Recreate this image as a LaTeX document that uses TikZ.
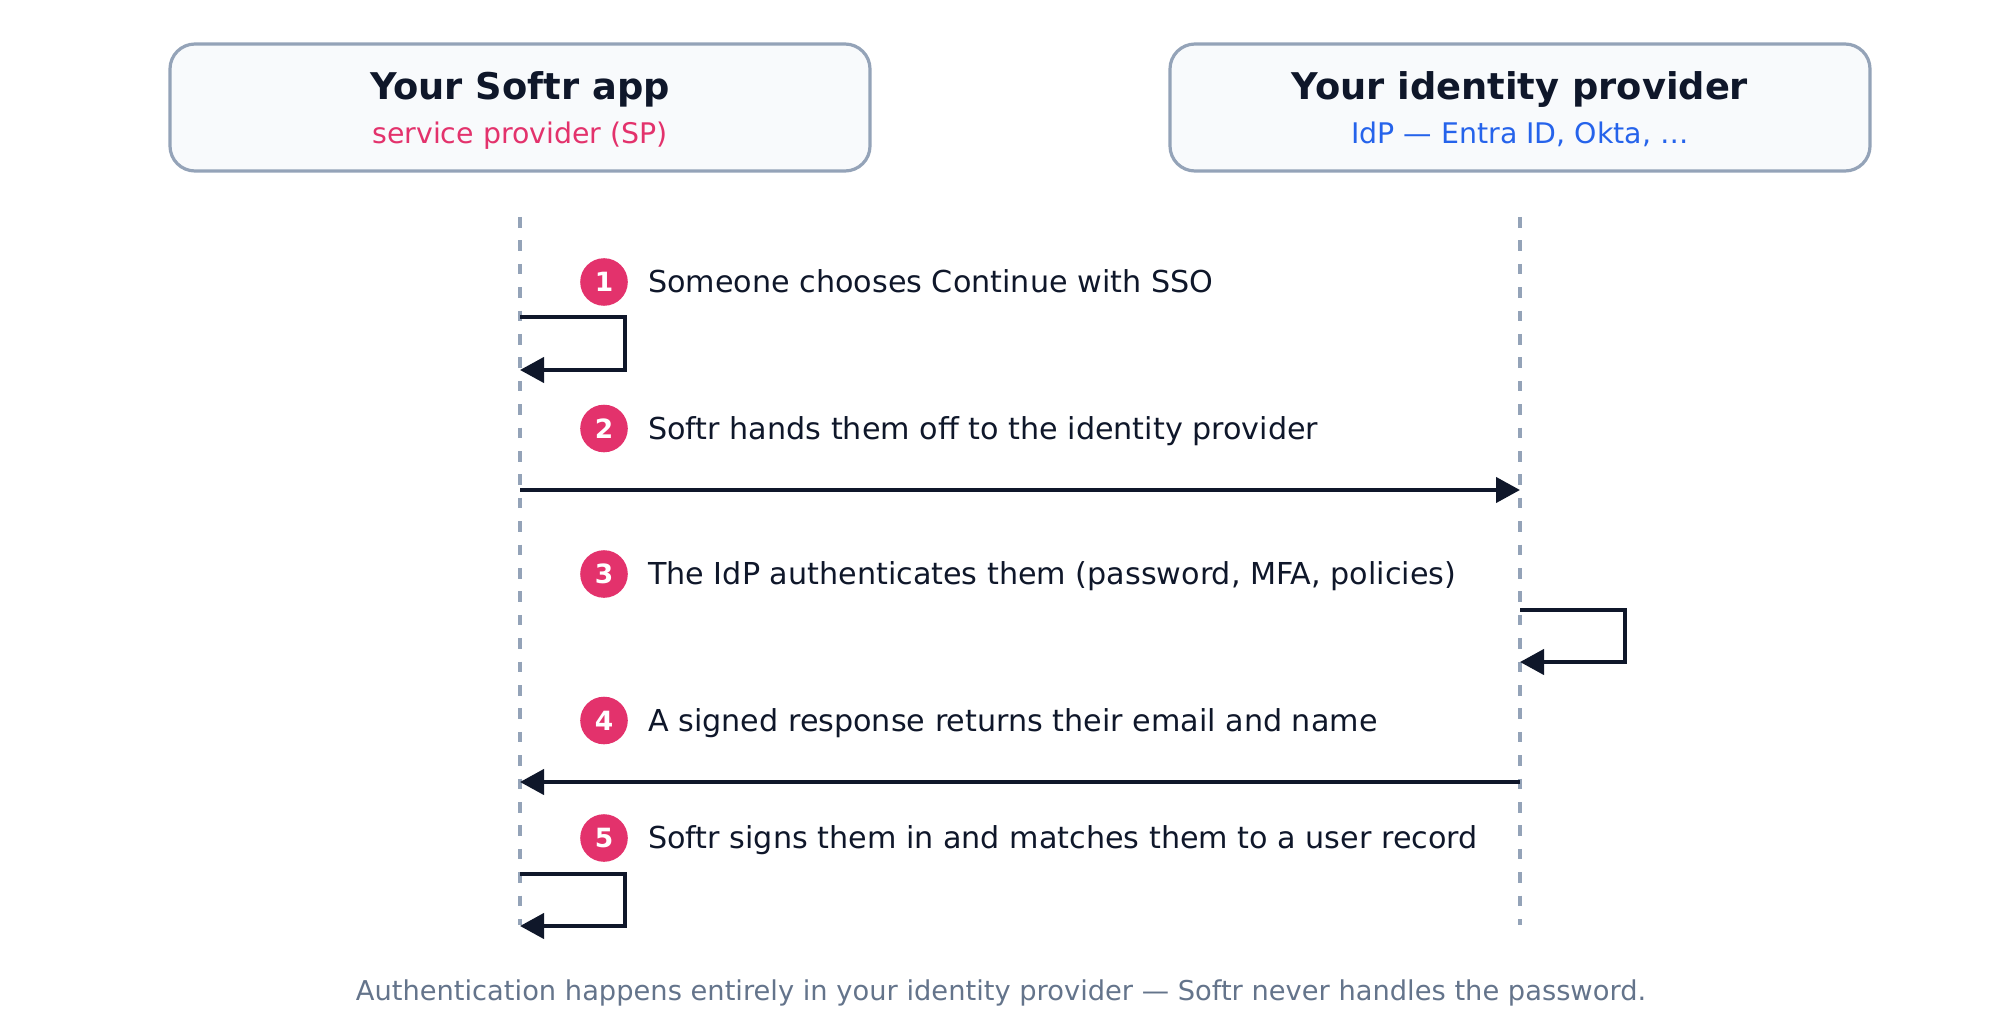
\documentclass[tikz,border=0pt]{standalone}
\usepackage{fontspec}
\setmainfont{DejaVu Sans}
\usetikzlibrary{arrows.meta,positioning}

\definecolor{ink}{HTML}{0F172A}
\definecolor{accent}{HTML}{E3326C}
\definecolor{idpblue}{HTML}{2563EB}
\definecolor{lifegray}{HTML}{94A3B8}
\definecolor{boxfill}{HTML}{F8FAFC}
\definecolor{muted}{HTML}{64748B}

\begin{document}
\begin{tikzpicture}[x=1pt,y=-1pt,
  party/.style={draw=lifegray, line width=3.2pt, fill=boxfill, rounded corners=25pt,
    minimum width=700pt, minimum height=127pt},
  partytitle/.style={anchor=base, inner sep=0pt, text=ink, font=\fontsize{36.8}{44}\selectfont\bfseries},
  partysub/.style={anchor=base, inner sep=0pt, font=\fontsize{28.4}{34}\selectfont},
  lifeline/.style={draw=lifegray, line width=3.2pt, dash pattern=on 10.6pt off 12.8pt},
  msg/.style={draw=ink, line width=4.3pt, -{Triangle[length=24pt,width=25pt]}},
  badge/.style={circle, fill=accent, minimum size=47.6pt, inner sep=0pt, text=white,
    font=\fontsize{26.5}{31}\selectfont\bfseries},
  steptext/.style={anchor=base west, inner sep=0pt, text=ink, font=\fontsize{30.2}{36}\selectfont},
 ]
 \useasboundingbox (0,0) rectangle (2000,1032);

 % participants
 \node[party] (sp) at (520,107.5) {};
 \node[party] (idp) at (1520,107.5) {};
 \node[partytitle] (sptitle) at (520,99.5) {Your Softr app};
 \node[partysub, text=accent] (spsub) at (520,143.5) {service provider (SP)};
 \node[partytitle] (idptitle) at (1520,99.5) {Your identity provider};
 \node[partysub, text=idpblue] (idpsub) at (1520,143.5) {IdP — Entra ID, Okta, …};

 % lifelines
 \coordinate (sptop) at (520,217);
 \coordinate (spbot) at (520,925);
 \coordinate (idptop) at (1520,217);
 \coordinate (idpbot) at (1520,925);
 \draw[lifeline] (sptop) -- (spbot);
 \draw[lifeline] (idptop) -- (idpbot);

 % steps
 \foreach \n/\y/\txt in {
   1/282/{Someone chooses Continue with SSO},
   2/428.5/{Softr hands them off to the identity provider},
   3/574/{The IdP authenticates them (password, MFA, policies)},
   4/720.5/{A signed response returns their email and name},
   5/838/{Softr signs them in and matches them to a user record}} {
  \node[badge] (b\n) at (604,\y) {\n};
  \node[steptext, yshift=-10.5pt] (t\n) at (648,\y) {\txt};
 }

 % messages
 \coordinate (sp1a) at (520,317);
 \coordinate (sp1b) at (520,370);
 \coordinate (m2a) at (520,490);
 \coordinate (m2b) at (1520,490);
 \coordinate (idp3a) at (1520,610);
 \coordinate (idp3b) at (1520,662);
 \coordinate (m4a) at (1520,782);
 \coordinate (m4b) at (520,782);
 \coordinate (sp5a) at (520,874);
 \coordinate (sp5b) at (520,926);
 \draw[msg] (sp1a) -- ++(105,0) |- (sp1b);
 \draw[msg] (m2a) -- (m2b);
 \draw[msg] (idp3a) -- ++(105,0) |- (idp3b);
 \draw[msg] (m4a) -- (m4b);
 \draw[msg] (sp5a) -- ++(105,0) |- (sp5b);

 \node[anchor=base, inner sep=0pt, text=muted, font=\fontsize{27.3}{32}\selectfont] (note) at (1001,1000)
  {Authentication happens entirely in your identity provider — Softr never handles the password.};
\end{tikzpicture}
\end{document}
